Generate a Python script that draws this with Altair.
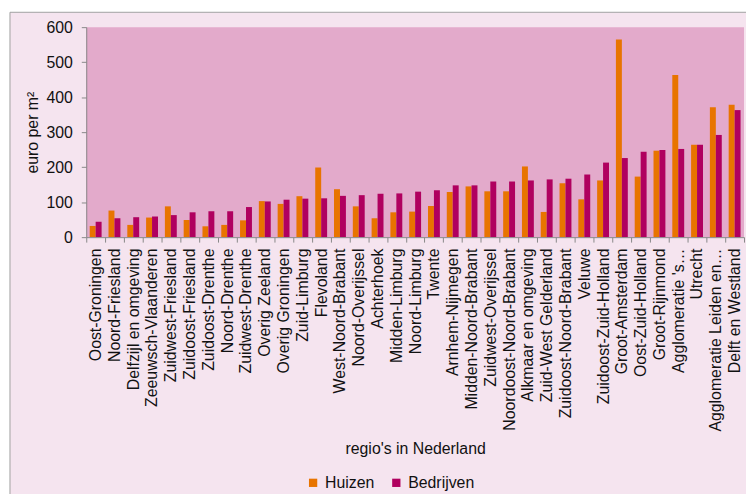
import altair as alt
import pandas as pd

regions = [
    "Oost-Groningen", "Noord-Friesland", "Delfzijl en omgeving", "Zeeuwsch-Vlaanderen",
    "Zuidwest-Friesland", "Zuidoost-Friesland", "Zuidoost-Drenthe", "Noord-Drenthe",
    "Zuidwest-Drenthe", "Overig Zeeland", "Overig Groningen", "Zuid-Limburg",
    "Flevoland", "West-Noord-Brabant", "Noord-Overijssel", "Achterhoek",
    "Midden-Limburg", "Noord-Limburg", "Twente", "Arnhem-Nijmegen",
    "Midden-Noord-Brabant", "Zuidwest-Overijssel", "Noordoost-Noord-Brabant",
    "Alkmaar en omgeving", "Zuid-West Gelderland", "Zuidoost-Noord-Brabant", "Veluwe",
    "Zuidoost-Zuid-Holland", "Groot-Amsterdam", "Oost-Zuid-Holland", "Groot-Rijnmond",
    "Agglomeratie 's…", "Utrecht", "Agglomeratie Leiden en…", "Delft en Westland",
]
huizen = [32, 76, 35, 56, 88, 49, 31, 35, 48, 103, 95, 117, 199, 137, 88, 54,
          71, 73, 89, 129, 145, 131, 131, 202, 72, 154, 108, 162, 565, 173, 247,
          463, 264, 371, 378]
bedrijven = [44, 54, 57, 59, 63, 71, 74, 74, 86, 102, 107, 110, 111, 118, 120, 124,
             125, 130, 134, 148, 148, 159, 159, 162, 165, 167, 179, 213, 226, 244, 249,
             252, 264, 292, 363]
series = ["Huizen", "Bedrijven"]
colors = ["#E87400", "#B0005F"]

rows = []
for r, h, b in zip(regions, huizen, bedrijven):
    rows.append({"regio": r, "serie": "Huizen", "waarde": h})
    rows.append({"regio": r, "serie": "Bedrijven", "waarde": b})
df = pd.DataFrame(rows)

W, H = 664, 212
FONT = "Liberation Sans"

frame = alt.Chart(pd.DataFrame({"a": [0]})).mark_rect(
    fill="#F5E4EF", stroke="#A0A0A0", strokeWidth=1, clip=False
).encode(
    x=alt.value(-77), x2=alt.value(W + 20), y=alt.value(-15), y2=alt.value(H + 300)
)
plotbg = alt.Chart(pd.DataFrame({"a": [0]})).mark_rect(fill="#E3AACB").encode(
    x=alt.value(0), x2=alt.value(W), y=alt.value(0), y2=alt.value(H)
)

bars = alt.Chart(df).mark_bar().encode(
    x=alt.X("regio:N", sort=regions,
            scale=alt.Scale(paddingInner=0, paddingOuter=0),
            axis=alt.Axis(title="regio's in Nederland", labelAngle=-90,
                          tickBand="extent", ticks=True, tickSize=5,
                          tickColor="#888888", domainColor="#888888",
                          labelFontSize=16, labelFont=FONT, labelColor="#111111",
                          labelPadding=6, labelLimit=220, zindex=2,
                          titleFont=FONT, titleFontSize=16, titleFontWeight="normal",
                          titleColor="#111111", titleY=205, titleBaseline="top")),
    xOffset=alt.XOffset("serie:N", sort=series,
                        scale=alt.Scale(paddingInner=0, paddingOuter=0.58)),
    y=alt.Y("waarde:Q", scale=alt.Scale(domain=[0, 600], nice=False),
            axis=alt.Axis(title="euro per m²", values=[0, 100, 200, 300, 400, 500, 600],
                          grid=False, tickSize=5, tickColor="#888888",
                          domainColor="#888888", labelFontSize=16, labelFont=FONT,
                          labelColor="#111111", labelPadding=9, zindex=2,
                          titleFont=FONT, titleFontSize=16, titleFontWeight="normal",
                          titleColor="#111111", titlePadding=6)),
    color=alt.Color("serie:N", sort=series,
                    scale=alt.Scale(domain=series, range=colors),
                    legend=alt.Legend(title=None, orient="none", direction="horizontal",
                                      legendX=221, legendY=452,
                                      symbolType="square", symbolSize=70,
                                      symbolStrokeWidth=0, zindex=2,
                                      labelFont=FONT, labelFontSize=16,
                                      labelColor="#111111", columnPadding=14)),
)

chart = alt.layer(frame, plotbg, bars).properties(
    width=W, height=H,
    autosize=alt.AutoSizeParams(type="none"),
    padding={"left": 79, "top": 17, "right": 2, "bottom": 262},
    background="white",
).configure_view(stroke=None)

chart.save("out.html", embed_options={"renderer": "svg", "actions": False})
